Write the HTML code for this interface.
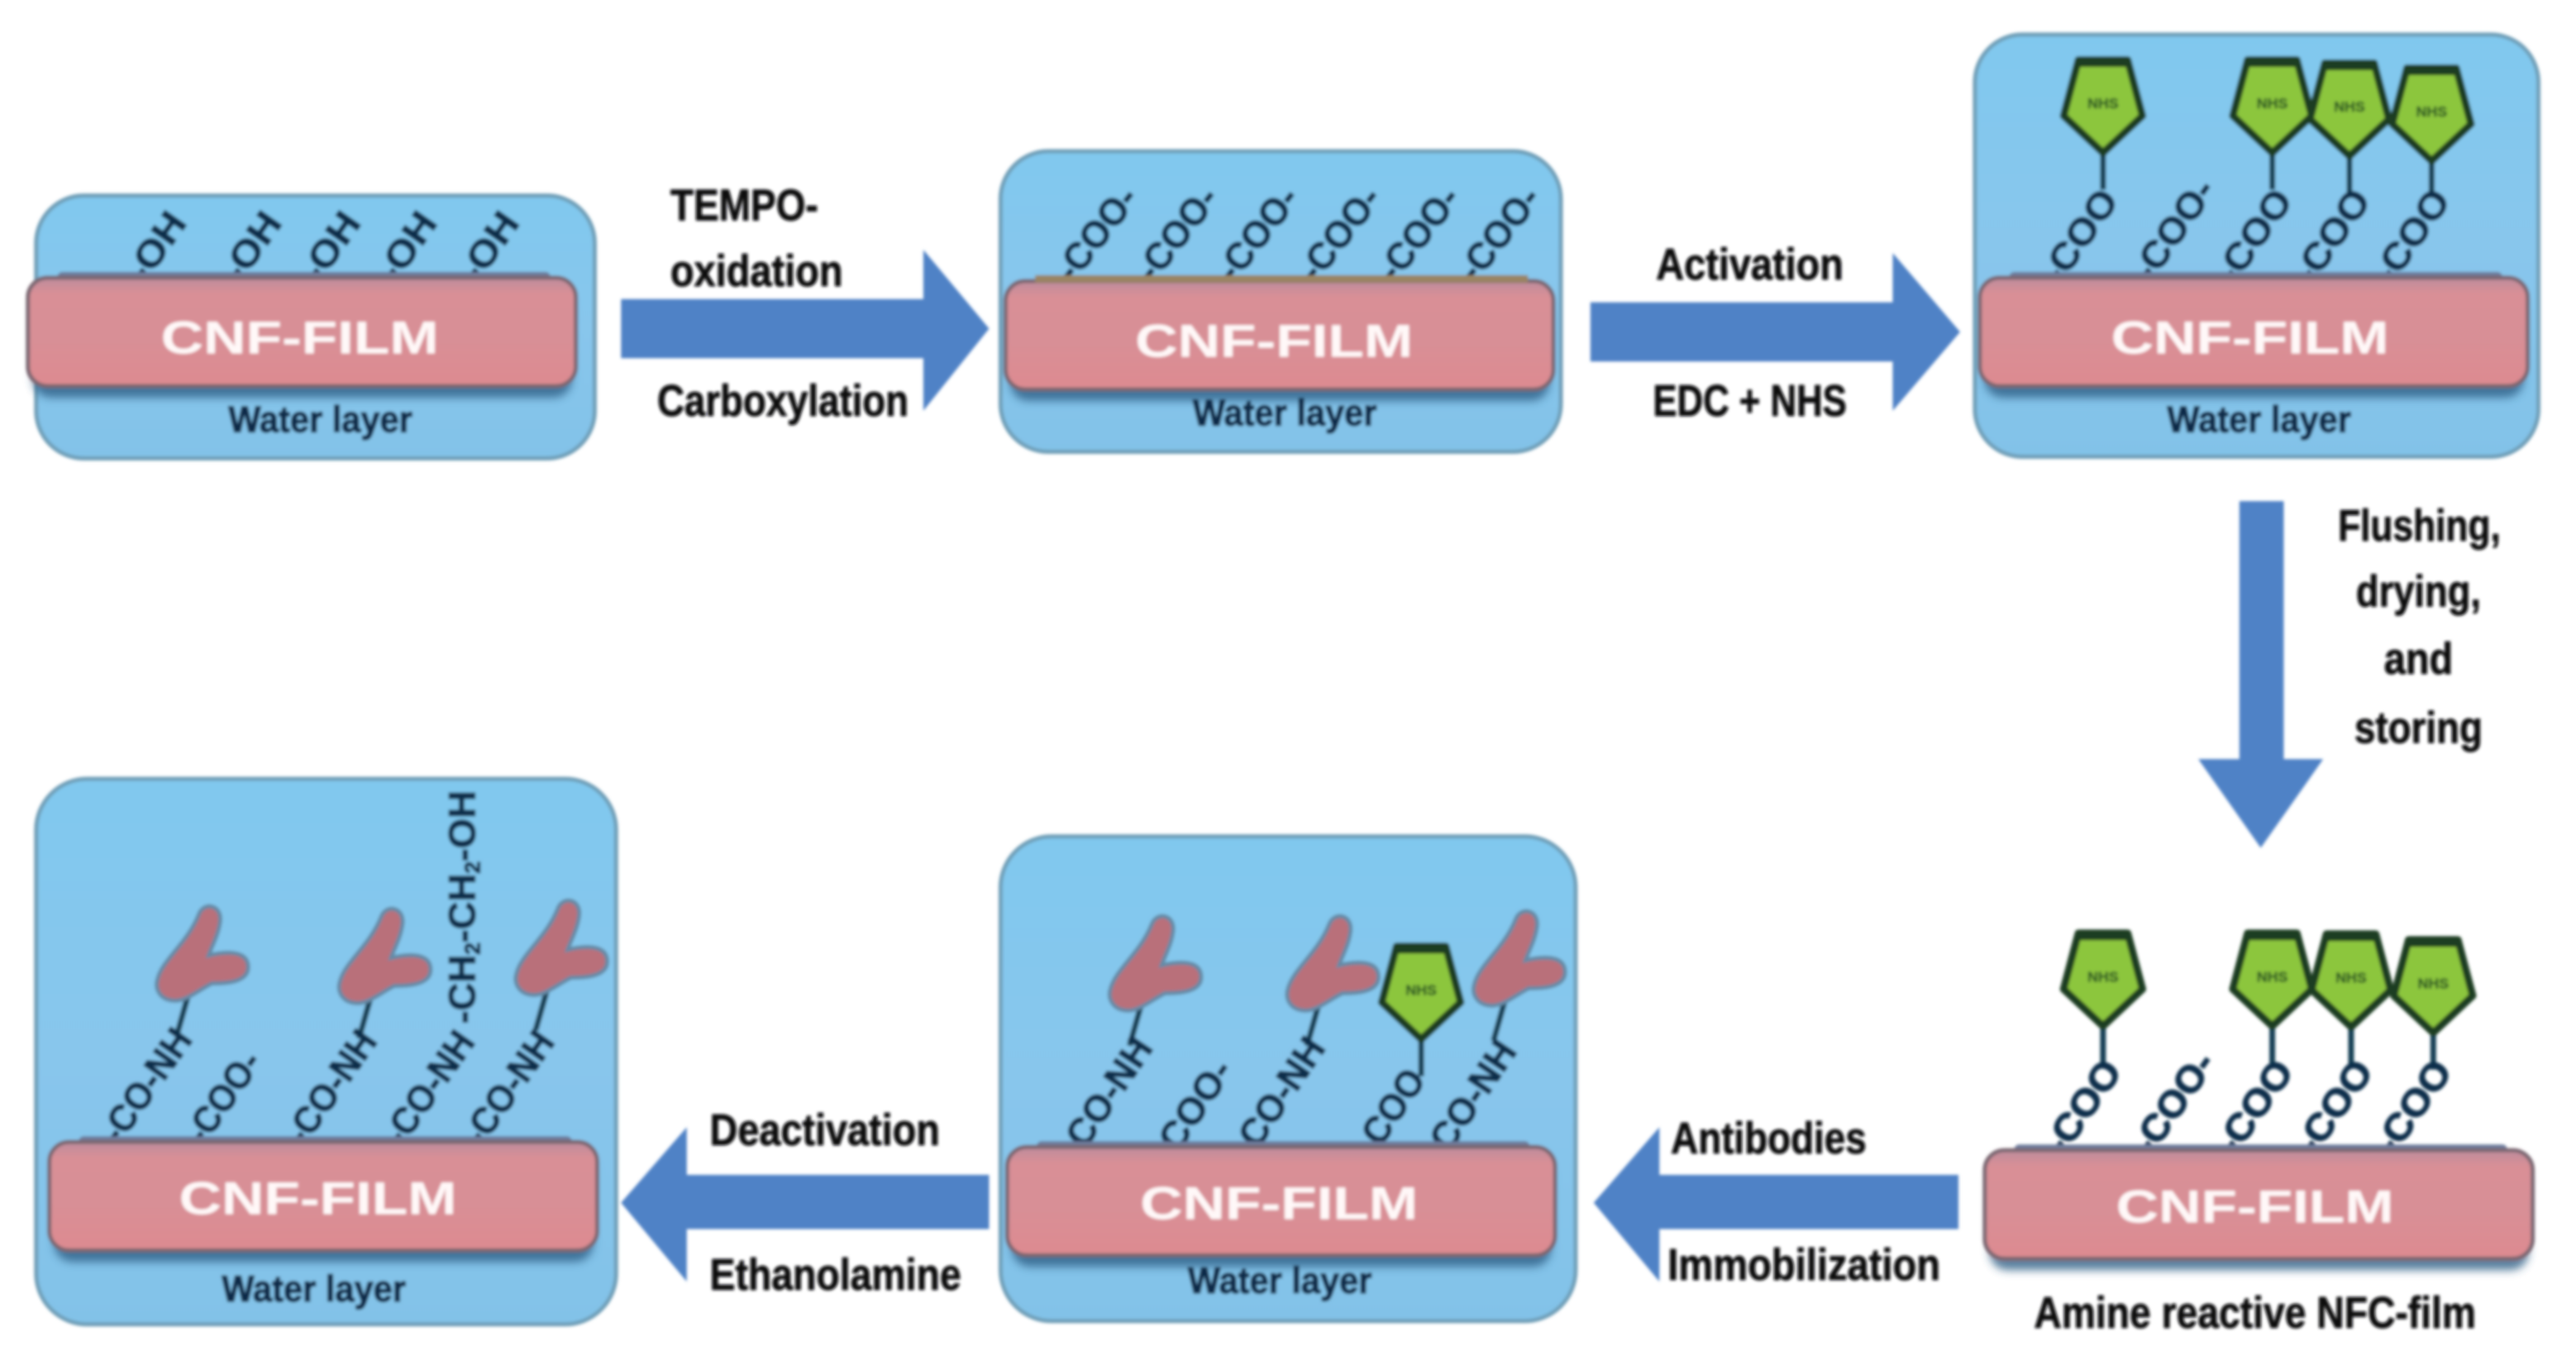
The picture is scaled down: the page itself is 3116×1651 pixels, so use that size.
<!DOCTYPE html>
<html><head><meta charset="utf-8"><title>CNF film functionalisation</title>
<style>
html,body{margin:0;padding:0;background:#fff;width:3116px;height:1651px;overflow:hidden}
svg{display:block}
text{font-family:"Liberation Sans",sans-serif;font-weight:bold}
.k{font-size:54px;fill:#08080c;stroke:#08080c;stroke-width:.8}
.w{font-size:45px;fill:#0c2a4a;stroke:#0c2a4a;stroke-width:1.4}
.c{font-size:56px;fill:#fff8f8}
.m{font-size:46px;fill:#0b2f4c;stroke:#0b2f4c;stroke-width:1.3}
.n{font-size:18px;fill:#356326;stroke:#356326;stroke-width:.6}
.box{fill:url(#wg);stroke:#6f9fb8;stroke-width:5}
.st{stroke:#123f55;stroke-width:7;fill:none}
</style></head><body>
<svg width="3116" height="1651" viewBox="0 0 3116 1651" xmlns="http://www.w3.org/2000/svg">
<defs>
<filter id="b" x="-2%" y="-2%" width="104%" height="104%"><feGaussianBlur stdDeviation="1.8"/></filter>
<filter id="s" x="-5%" y="-20%" width="110%" height="140%"><feGaussianBlur stdDeviation="5"/></filter>
<linearGradient id="wg" x1="0" y1="0" x2="0" y2="1"><stop offset="0" stop-color="#80c8ee"/><stop offset=".5" stop-color="#88c6ec"/><stop offset="1" stop-color="#82c2e8"/></linearGradient>
<linearGradient id="fg" x1="0" y1="0" x2="0" y2="1"><stop offset="0" stop-color="#bd8c9c"/><stop offset=".15" stop-color="#d98f96"/><stop offset=".55" stop-color="#d88f96"/><stop offset="1" stop-color="#dd8a90"/></linearGradient>
<g id="film">
<rect x="6" y="14" width="656" height="132" rx="22" fill="#2e5f85" opacity=".8" filter="url(#s)"/>
<rect x="36" y="-7" width="600" height="16" rx="6" fill="#6d7c9c"/>
<rect x="0" y="0" width="667" height="132" rx="24" fill="url(#fg)" stroke="#7b6772" stroke-width="5"/>
</g>
<g id="pent">
<line class="st" x1="0" y1="0" x2="0" y2="45"/>
<polygon points="-30,-113 30,-113 48,-45 0,0 -48,-45" fill="#8cc63c" stroke="#1c3d24" stroke-width="9" stroke-linejoin="round"/>
<line x1="-29" y1="-111" x2="29" y2="-111" stroke="#1c3d24" stroke-width="13"/>
</g>
<g id="ab">
<line class="st" x1="0" y1="-5" x2="-15" y2="48"/>
<path d="M-38,-22 C-32,-45 -2,-65 12,-100 C18,-116 40,-112 38,-92 C36,-75 28,-62 24,-50 C40,-54 70,-58 72,-38 C74,-18 48,-16 28,-16 C12,-8 -4,6 -18,5 C-36,4 -42,-10 -38,-22 Z" fill="#b9707a" stroke="#668aa6" stroke-width="5"/>
</g>
</defs>
<rect width="3116" height="1651" fill="#fff"/>
<g filter="url(#b)">
<g transform="scale(.9937)">

<!-- water boxes -->
<rect class="box" x="44" y="238" width="680" height="320" rx="58"/>
<rect class="box" x="1218" y="184" width="682" height="366" rx="58"/>
<rect class="box" x="2404" y="42" width="686" height="514" rx="58"/>
<rect class="box" x="1218" y="1018" width="700" height="590" rx="62"/>
<rect class="box" x="44" y="948" width="706" height="664" rx="62"/>

<!-- arrows -->
<g fill="#4f82c6">
<polygon points="756,364 1124,364 1124,304 1204,400 1124,500 1124,436 756,436"/>
<polygon points="1936,368 2304,368 2304,308 2386,404 2304,500 2304,440 1936,440"/>
<polygon points="2726,610 2780,610 2780,924 2828,924 2752,1032 2676,924 2726,924"/>
<polygon points="2384,1430 2020,1430 2020,1372 1940,1464 2020,1560 2020,1496 2384,1496"/>
<polygon points="1204,1430 836,1430 836,1372 756,1464 836,1560 836,1496 1204,1496"/>
</g>

<!-- box 1 substituents -->
<text class="m" transform="translate(176,347) rotate(-55)" textLength="92" lengthAdjust="spacingAndGlyphs">-OH</text>
<text class="m" transform="translate(292,347) rotate(-55)" textLength="92" lengthAdjust="spacingAndGlyphs">-OH</text>
<text class="m" transform="translate(388,347) rotate(-55)" textLength="92" lengthAdjust="spacingAndGlyphs">-OH</text>
<text class="m" transform="translate(481,347) rotate(-55)" textLength="92" lengthAdjust="spacingAndGlyphs">-OH</text>
<text class="m" transform="translate(581,347) rotate(-55)" textLength="92" lengthAdjust="spacingAndGlyphs">-OH</text>

<!-- box 2 substituents -->
<text class="m" transform="translate(1306,346) rotate(-52)" textLength="132" lengthAdjust="spacingAndGlyphs">-COO-</text>
<text class="m" transform="translate(1404,346) rotate(-52)" textLength="132" lengthAdjust="spacingAndGlyphs">-COO-</text>
<text class="m" transform="translate(1502,346) rotate(-52)" textLength="132" lengthAdjust="spacingAndGlyphs">-COO-</text>
<text class="m" transform="translate(1602,346) rotate(-52)" textLength="132" lengthAdjust="spacingAndGlyphs">-COO-</text>
<text class="m" transform="translate(1698,346) rotate(-52)" textLength="132" lengthAdjust="spacingAndGlyphs">-COO-</text>
<text class="m" transform="translate(1796,346) rotate(-52)" textLength="132" lengthAdjust="spacingAndGlyphs">-COO-</text>

<!-- box 3 substituents -->
<use href="#pent" x="2560" y="186"/><use href="#pent" x="2766" y="186"/><use href="#pent" x="2860" y="190"/><use href="#pent" x="2960" y="196"/>
<text class="n" x="2560" y="132" text-anchor="middle">NHS</text>
<text class="n" x="2766" y="132" text-anchor="middle">NHS</text>
<text class="n" x="2860" y="136" text-anchor="middle">NHS</text>
<text class="n" x="2960" y="142" text-anchor="middle">NHS</text>
<text class="m" transform="translate(2507,349) rotate(-55)" textLength="128" lengthAdjust="spacingAndGlyphs">-COO</text>
<text class="m" transform="translate(2618,346) rotate(-55)" textLength="140" lengthAdjust="spacingAndGlyphs">-COO-</text>
<text class="m" transform="translate(2719,349) rotate(-55)" textLength="128" lengthAdjust="spacingAndGlyphs">-COO</text>
<text class="m" transform="translate(2814,349) rotate(-55)" textLength="128" lengthAdjust="spacingAndGlyphs">-COO</text>
<text class="m" transform="translate(2911,349) rotate(-55)" textLength="128" lengthAdjust="spacingAndGlyphs">-COO</text>

<!-- amine reactive film substituents -->
<use href="#pent" x="2560" y="1249"/><use href="#pent" x="2766" y="1249"/><use href="#pent" x="2862" y="1250"/><use href="#pent" x="2962" y="1257"/>
<text class="n" x="2560" y="1195" text-anchor="middle">NHS</text>
<text class="n" x="2766" y="1195" text-anchor="middle">NHS</text>
<text class="n" x="2862" y="1196" text-anchor="middle">NHS</text>
<text class="n" x="2962" y="1203" text-anchor="middle">NHS</text>
<text class="m" transform="translate(2511,1409) rotate(-55)" textLength="128" lengthAdjust="spacingAndGlyphs">-COO</text>
<text class="m" transform="translate(2618,1409) rotate(-55)" textLength="140" lengthAdjust="spacingAndGlyphs">-COO-</text>
<text class="m" transform="translate(2720,1409) rotate(-55)" textLength="128" lengthAdjust="spacingAndGlyphs">-COO</text>
<text class="m" transform="translate(2817,1409) rotate(-55)" textLength="128" lengthAdjust="spacingAndGlyphs">-COO</text>
<text class="m" transform="translate(2913,1409) rotate(-55)" textLength="128" lengthAdjust="spacingAndGlyphs">-COO</text>

<!-- bottom middle substituents -->
<use href="#ab" x="1390" y="1225"/><use href="#ab" x="1606" y="1225"/><use href="#ab" x="1833" y="1219"/>
<use href="#pent" x="1730" y="1265"/>
<text class="n" x="1730" y="1211" text-anchor="middle">NHS</text>
<text class="m" transform="translate(1321,1400) rotate(-56)" textLength="150" lengthAdjust="spacingAndGlyphs">CO-NH</text>
<text class="m" transform="translate(1434,1404) rotate(-56)" textLength="122" lengthAdjust="spacingAndGlyphs">COO-</text>
<text class="m" transform="translate(1531,1400) rotate(-56)" textLength="150" lengthAdjust="spacingAndGlyphs">CO-NH</text>
<text class="m" transform="translate(1681,1397) rotate(-56)" textLength="100" lengthAdjust="spacingAndGlyphs">COO</text>
<text class="m" transform="translate(1764,1404) rotate(-56)" textLength="150" lengthAdjust="spacingAndGlyphs">CO-NH</text>

<!-- bottom left substituents -->
<use href="#ab" x="230" y="1213"/><use href="#ab" x="452" y="1216"/><use href="#ab" x="667" y="1206"/>
<text class="m" transform="translate(145,1395) rotate(-55)" textLength="158" lengthAdjust="spacingAndGlyphs">-CO-NH</text>
<text class="m" transform="translate(248,1396) rotate(-55)" textLength="126" lengthAdjust="spacingAndGlyphs">-COO-</text>
<text class="m" transform="translate(370,1397) rotate(-55)" textLength="158" lengthAdjust="spacingAndGlyphs">-CO-NH</text>
<text class="m" transform="translate(489,1398) rotate(-55)" textLength="158" lengthAdjust="spacingAndGlyphs">-CO-NH</text>
<text class="m" transform="translate(586,1398) rotate(-55)" textLength="158" lengthAdjust="spacingAndGlyphs">-CO-NH</text>
<text class="m" transform="translate(578,1246) rotate(-90)" textLength="284" lengthAdjust="spacingAndGlyphs">-CH<tspan font-size="26" dy="6">2</tspan><tspan dy="-6">-CH</tspan><tspan font-size="26" dy="6">2</tspan><tspan dy="-6">-OH</tspan></text>

<!-- films -->
<use href="#film" x="34" y="338"/>
<use href="#film" x="1224" y="342"/>
<rect x="1260" y="335" width="600" height="9" fill="#9a8464"/>
<use href="#film" x="2410" y="338"/>
<use href="#film" x="2416" y="1400"/>
<use href="#film" x="1226" y="1396"/>
<use href="#film" x="60" y="1390"/>

<!-- film labels -->
<text class="c" x="196" y="430" textLength="338" lengthAdjust="spacingAndGlyphs">CNF-FILM</text>
<text class="c" x="1382" y="434" textLength="338" lengthAdjust="spacingAndGlyphs">CNF-FILM</text>
<text class="c" x="2570" y="430" textLength="338" lengthAdjust="spacingAndGlyphs">CNF-FILM</text>
<text class="c" x="2576" y="1488" textLength="338" lengthAdjust="spacingAndGlyphs">CNF-FILM</text>
<text class="c" x="1388" y="1484" textLength="338" lengthAdjust="spacingAndGlyphs">CNF-FILM</text>
<text class="c" x="218" y="1478" textLength="338" lengthAdjust="spacingAndGlyphs">CNF-FILM</text>

<!-- water labels -->
<text class="w" x="278" y="526" textLength="224" lengthAdjust="spacingAndGlyphs">Water layer</text>
<text class="w" x="1452" y="518" textLength="224" lengthAdjust="spacingAndGlyphs">Water layer</text>
<text class="w" x="2638" y="526" textLength="224" lengthAdjust="spacingAndGlyphs">Water layer</text>
<text class="w" x="1446" y="1574" textLength="224" lengthAdjust="spacingAndGlyphs">Water layer</text>
<text class="w" x="270" y="1584" textLength="224" lengthAdjust="spacingAndGlyphs">Water layer</text>

<!-- process labels -->
<text class="k" x="816" y="268" textLength="180" lengthAdjust="spacingAndGlyphs">TEMPO-</text>
<text class="k" x="816" y="348" textLength="210" lengthAdjust="spacingAndGlyphs">oxidation</text>
<text class="k" x="800" y="506" textLength="306" lengthAdjust="spacingAndGlyphs">Carboxylation</text>
<text class="k" x="2016" y="340" textLength="228" lengthAdjust="spacingAndGlyphs">Activation</text>
<text class="k" x="2012" y="506" textLength="236" lengthAdjust="spacingAndGlyphs">EDC + NHS</text>
<text class="k" x="2846" y="658" textLength="198" lengthAdjust="spacingAndGlyphs">Flushing,</text>
<text class="k" x="2868" y="738" textLength="152" lengthAdjust="spacingAndGlyphs">drying,</text>
<text class="k" x="2902" y="820" textLength="84" lengthAdjust="spacingAndGlyphs">and</text>
<text class="k" x="2866" y="904" textLength="156" lengthAdjust="spacingAndGlyphs">storing</text>
<text class="k" x="2034" y="1404" textLength="238" lengthAdjust="spacingAndGlyphs">Antibodies</text>
<text class="k" x="2030" y="1558" textLength="332" lengthAdjust="spacingAndGlyphs">Immobilization</text>
<text class="k" x="864" y="1394" textLength="280" lengthAdjust="spacingAndGlyphs">Deactivation</text>
<text class="k" x="864" y="1570" textLength="306" lengthAdjust="spacingAndGlyphs">Ethanolamine</text>
<text class="k" x="2476" y="1616" textLength="538" lengthAdjust="spacingAndGlyphs">Amine reactive NFC-film</text>
</g>
</g>
</svg>
</body></html>
